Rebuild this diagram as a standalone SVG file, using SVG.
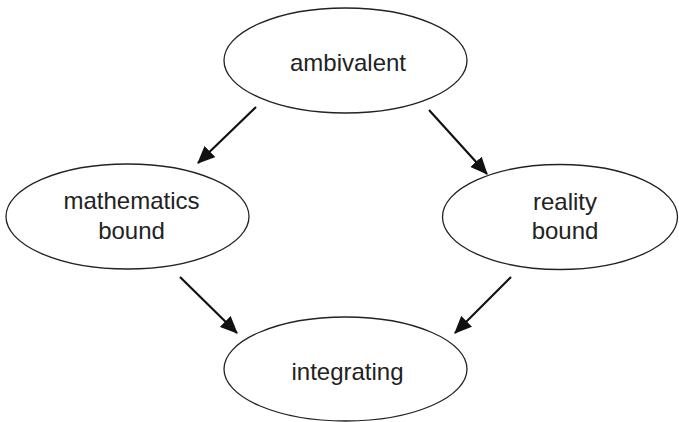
<svg xmlns="http://www.w3.org/2000/svg" width="679" height="422" viewBox="0 0 679 422">
<defs>
<style>
.node ellipse{fill:#fff;stroke:#222;stroke-width:1.3}
.node text{font-family:"Liberation Sans",Arial,sans-serif;font-size:24px;fill:#222;text-anchor:middle}
.edge{stroke:#111;stroke-width:2.2;fill:none;marker-end:url(#ah)}
</style>
<marker id="ah" markerWidth="8" markerHeight="7" refX="7.5" refY="3.5" orient="auto" markerUnits="strokeWidth" viewBox="0 0 8 7">
<path d="M0,0 L8,3.5 L0,7 Z" fill="#111"/>
</marker>
</defs>
<rect width="679" height="422" fill="#fff"/>
<g id="connectors">
<line class="edge" x1="256" y1="107" x2="198" y2="163"/>
<line class="edge" x1="429" y1="110" x2="487" y2="174"/>
<line class="edge" x1="180" y1="277" x2="237" y2="333"/>
<line class="edge" x1="511" y1="277" x2="455" y2="333"/>
</g>
<g id="ambivalent" class="node">
<ellipse cx="345.5" cy="60.5" rx="121.5" ry="52.5"/>
<text x="348" y="71">ambivalent</text>
</g>
<g id="mathematics-bound" class="node">
<ellipse cx="127.5" cy="216.5" rx="121.5" ry="52.5"/>
<text x="131.5" y="209">mathematics</text>
<text x="131.5" y="239">bound</text>
</g>
<g id="reality-bound" class="node">
<ellipse cx="560" cy="217" rx="117.5" ry="52.5"/>
<text x="565" y="210">reality</text>
<text x="565" y="239">bound</text>
</g>
<g id="integrating" class="node">
<ellipse cx="345.5" cy="369" rx="121.5" ry="52"/>
<text x="347.5" y="380">integrating</text>
</g>
</svg>
